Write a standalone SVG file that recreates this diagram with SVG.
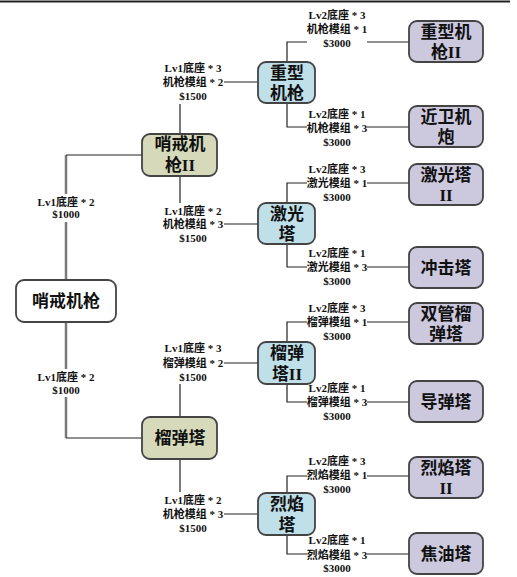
<svg xmlns="http://www.w3.org/2000/svg" width="517" height="577" viewBox="0 0 517 577">
<style>
.n rect{stroke:#444;stroke-width:1.8}
.root rect{fill:#ffffff}
.l1 rect{fill:#d6dabb}
.l2 rect{fill:#bfdfe9}
.l3 rect{fill:#ccc8de}
.n text{font-family:"Liberation Serif","Noto Sans CJK SC",serif;font-weight:bold;font-size:17px;fill:#111;text-anchor:middle}
.c path{fill:none;stroke:#222;stroke-width:1.2}
.c path.g{stroke:#7a7a7a;stroke-width:2.5}
.lb rect{fill:#fff}
.lb text{font-family:"Liberation Serif","Noto Sans CJK SC",serif;font-weight:bold;font-size:11px;fill:#111;text-anchor:middle}
</style>
<rect x="0" y="0" width="517" height="577" fill="#fff"/>
<line x1="0" y1="1.5" x2="510" y2="1.5" stroke="#222" stroke-width="2"/>
<g id="connectors" class="c">
<path class="g" d="M66,280 V155"/><path d="M66,155 H142"/>
<path class="g" d="M66,322 V438"/><path d="M66,438 H142"/>
<path d="M180,134 V82 H258"/>
<path d="M180,176 V224 H258"/>
<path d="M180,417 V363 H258"/>
<path d="M180,459 V514 H258"/>
<path d="M287,62 V42 H409"/>
<path d="M287,103 V127 H409"/>
<path d="M287,203 V183 H409"/>
<path d="M287,244 V267 H409"/>
<path d="M287,342 V322 H409"/>
<path d="M287,384 V402 H409"/>
<path d="M287,493 V476 H409"/>
<path d="M287,535 V554 H409"/>
</g>
<g id="labels" class="lb">
<g><rect x="35" y="194" width="62" height="28"/><text x="66" y="206">Lv1底座 * 2</text><text x="66" y="218">$1000</text></g>
<g><rect x="35" y="369" width="62" height="28"/><text x="66" y="381">Lv1底座 * 2</text><text x="66" y="394">$1000</text></g>
<g><rect x="163" y="60" width="61" height="44"/><text x="193" y="72">Lv1底座 * 3</text><text x="193" y="86">机枪模组 * 2</text><text x="193" y="100">$1500</text></g>
<g><rect x="163" y="203" width="61" height="43"/><text x="193" y="215">Lv1底座 * 2</text><text x="193" y="228">机枪模组 * 3</text><text x="193" y="242">$1500</text></g>
<g><rect x="163" y="340" width="61" height="44"/><text x="193" y="352">Lv1底座 * 3</text><text x="193" y="367">榴弹模组 * 2</text><text x="193" y="381">$1500</text></g>
<g><rect x="163" y="492" width="61" height="44"/><text x="193" y="504">Lv1底座 * 2</text><text x="193" y="518">机枪模组 * 3</text><text x="193" y="532">$1500</text></g>
<g><rect x="307" y="7" width="60" height="43"/><text x="337" y="19">Lv2底座 * 3</text><text x="337" y="33">机枪模组 * 1</text><text x="337" y="47">$3000</text></g>
<g><rect x="307" y="106" width="60" height="43"/><text x="337" y="118">Lv2底座 * 1</text><text x="337" y="132">机枪模组 * 3</text><text x="337" y="146">$3000</text></g>
<g><rect x="307" y="161" width="60" height="43"/><text x="337" y="173">Lv2底座 * 3</text><text x="337" y="187">激光模组 * 1</text><text x="337" y="201">$3000</text></g>
<g><rect x="307" y="245" width="60" height="43"/><text x="337" y="257">Lv2底座 * 1</text><text x="337" y="271">激光模组 * 3</text><text x="337" y="285">$3000</text></g>
<g><rect x="307" y="300" width="60" height="43"/><text x="337" y="312">Lv2底座 * 3</text><text x="337" y="326">榴弹模组 * 1</text><text x="337" y="340">$3000</text></g>
<g><rect x="307" y="380" width="60" height="43"/><text x="337" y="392">Lv2底座 * 1</text><text x="337" y="406">榴弹模组 * 3</text><text x="337" y="420">$3000</text></g>
<g><rect x="307" y="453" width="60" height="43"/><text x="337" y="465">Lv2底座 * 3</text><text x="337" y="479">烈焰模组 * 1</text><text x="337" y="493">$3000</text></g>
<g><rect x="307" y="532" width="60" height="43"/><text x="337" y="544">Lv2底座 * 1</text><text x="337" y="559">烈焰模组 * 3</text><text x="337" y="572">$3000</text></g>
</g>
<g id="n-root" class="n root"><rect x="16" y="280" width="100" height="42" rx="8"/><text x="66" y="307">哨戒机枪</text></g>
<g id="n-sentry2" class="n l1"><rect x="142" y="134" width="75" height="42" rx="8"/><text x="180" y="150">哨戒机</text><text x="180" y="171">枪II</text></g>
<g id="n-mortar" class="n l1"><rect x="142" y="417" width="75" height="42" rx="8"/><text x="180" y="444">榴弹塔</text></g>
<g id="n-heavy" class="n l2"><rect x="258" y="62" width="57" height="41" rx="8"/><text x="287" y="79">重型</text><text x="287" y="99">机枪</text></g>
<g id="n-laser" class="n l2"><rect x="258" y="203" width="57" height="41" rx="8"/><text x="287" y="220">激光</text><text x="287" y="240">塔</text></g>
<g id="n-mortar2" class="n l2"><rect x="258" y="342" width="57" height="42" rx="8"/><text x="287" y="359">榴弹</text><text x="287" y="380">塔II</text></g>
<g id="n-flame" class="n l2"><rect x="258" y="493" width="57" height="42" rx="8"/><text x="287" y="510">烈焰</text><text x="287" y="531">塔</text></g>
<g id="n-heavy2" class="n l3"><rect x="409" y="21" width="74" height="41" rx="8"/><text x="446" y="38">重型机</text><text x="446" y="58">枪II</text></g>
<g id="n-cannon" class="n l3"><rect x="409" y="106" width="74" height="41" rx="8"/><text x="446" y="123">近卫机</text><text x="446" y="143">炮</text></g>
<g id="n-laser2" class="n l3"><rect x="409" y="164" width="74" height="41" rx="8"/><text x="446" y="181">激光塔</text><text x="446" y="201">II</text></g>
<g id="n-shock" class="n l3"><rect x="409" y="247" width="74" height="41" rx="8"/><text x="446" y="274">冲击塔</text></g>
<g id="n-twin" class="n l3"><rect x="409" y="303" width="74" height="41" rx="8"/><text x="446" y="320">双管榴</text><text x="446" y="340">弹塔</text></g>
<g id="n-missile" class="n l3"><rect x="409" y="381" width="74" height="41" rx="8"/><text x="446" y="408">导弹塔</text></g>
<g id="n-flame2" class="n l3"><rect x="409" y="457" width="74" height="41" rx="8"/><text x="446" y="474">烈焰塔</text><text x="446" y="494">II</text></g>
<g id="n-tar" class="n l3"><rect x="409" y="533" width="74" height="41" rx="8"/><text x="446" y="560">焦油塔</text></g>
</svg>
